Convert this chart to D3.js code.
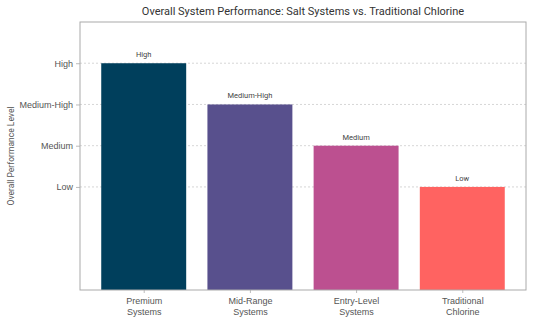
<!DOCTYPE html>
<html>
<head>
<meta charset="utf-8">
<script src="https://cdn.jsdelivr.net/npm/d3@7"></script>
<style>
  body { margin: 0; background: #fff; }
  svg { font-family: Roboto, "Open Sans", sans-serif; }
</style>
</head>
<body>
<svg id="chart" width="536" height="324"></svg>
<script>
const categories = ['Premium\nSystems', 'Mid-Range\nSystems', 'Entry-Level\nSystems', 'Traditional\nChlorine'];
const levels = [4, 3, 2, 1];
const levelLabels = ['High', 'Medium-High', 'Medium', 'Low'];
const tickValues = [1, 2, 3, 4];
const tickLabels = ['Low', 'Medium', 'Medium-High', 'High'];
const colors = ['#003f5c', '#58508d', '#bc5090', '#ff6361'];

const svg = d3.select('#chart');
const margin = { top: 22, right: 10, bottom: 34, left: 80 };
const width = 536 - margin.left - margin.right;
const height = 324 - margin.top - margin.bottom;

const g = svg.append('g').attr('transform', `translate(${margin.left},${margin.top})`);

// linear x so the bars sit like matplotlib (xlim -0.6..3.6, width 0.8)
const x = d3.scaleLinear().domain([-0.6, categories.length - 0.4]).range([0, width]);
const y = d3.scaleLinear().domain([-1.5, 5]).range([height, 0]);
const barW = x(0.8) - x(0);

// grid
g.selectAll('.grid')
  .data(tickValues)
  .enter().append('line')
  .attr('x1', 0).attr('x2', width)
  .attr('y1', d => y(d)).attr('y2', d => y(d))
  .attr('stroke', '#ccc')
  .attr('stroke-width', 0.8)
  .attr('stroke-dasharray', '2,2');

// bars
g.selectAll('.bar')
  .data(levels)
  .enter().append('rect')
  .attr('x', (d, i) => x(i) - barW / 2)
  .attr('y', d => y(d))
  .attr('width', barW)
  .attr('height', d => height - y(d))
  .attr('fill', (d, i) => colors[i]);

// value labels
g.selectAll('.val')
  .data(levels)
  .enter().append('text')
  .attr('x', (d, i) => x(i))
  .attr('y', d => y(d) - 6)
  .attr('text-anchor', 'middle')
  .attr('font-size', 7.5)
  .attr('fill', '#444')
  .text((d, i) => levelLabels[i]);

// y axis
const yAxis = d3.axisLeft(y)
  .tickValues(tickValues)
  .tickFormat((d, i) => tickLabels[i])
  .tickSize(4)
  .tickPadding(3);
const ya = g.append('g').call(yAxis);
ya.select('.domain').remove();
ya.selectAll('line').attr('stroke', '#bbb');
ya.selectAll('text').attr('font-size', 9).attr('fill', '#555').style('font-family', 'inherit');

// x axis
const xAxis = d3.axisBottom(x)
  .tickValues(d3.range(categories.length))
  .tickFormat('')
  .tickSize(3);
const xa = g.append('g').attr('transform', `translate(0,${height})`).call(xAxis);
xa.select('.domain').remove();
xa.selectAll('line').attr('stroke', '#bbb');
xa.selectAll('.tick').each(function(d, i) {
  const lines = categories[i].split('\n');
  const t = d3.select(this).append('text')
    .attr('fill', '#555')
    .attr('font-size', 9)
    .attr('text-anchor', 'middle');
  lines.forEach((l, j) => {
    t.append('tspan').attr('x', 0).attr('y', 14 + j * 11).text(l);
  });
});

// frame
g.append('rect')
  .attr('width', width).attr('height', height)
  .attr('fill', 'none')
  .attr('stroke', '#aaa')
  .attr('stroke-width', 1);

// title
svg.append('text')
  .attr('x', margin.left + width / 2)
  .attr('y', 15)
  .attr('text-anchor', 'middle')
  .attr('font-size', 11)
  .attr('fill', '#333')
  .text('Overall System Performance: Salt Systems vs. Traditional Chlorine');

// y label
svg.append('text')
  .attr('transform', `translate(14,${margin.top + height / 2}) rotate(-90)`)
  .attr('text-anchor', 'middle')
  .attr('font-size', 8.5)
  .attr('fill', '#555')
  .text('Overall Performance Level');
</script>
</body>
</html>
